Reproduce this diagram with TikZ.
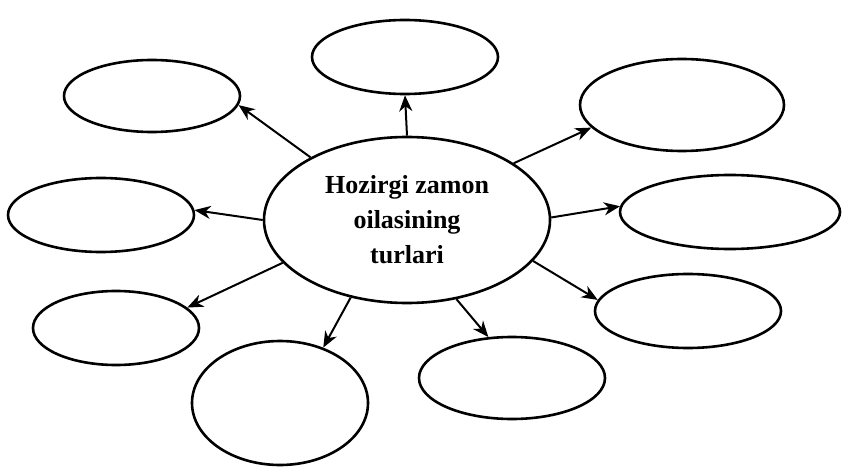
\documentclass[tikz,border=0pt]{standalone}
\usepackage{fontspec}
\setmainfont{Liberation Serif}
\usetikzlibrary{shapes.geometric,arrows.meta}
\tikzset{
  bub/.style={draw=black, line width=2.6pt, ellipse, inner sep=0pt},
  arr/.style={line width=2pt, -{Stealth[length=16pt,width=13pt,inset=5pt]}}
}
\begin{document}
\begin{tikzpicture}[x=1pt,y=-1pt]
\useasboundingbox (0,0) rectangle (843,473);
\node[bub, minimum width=286pt, minimum height=166pt, align=center,
  font=\fontsize{26}{35}\selectfont\bfseries] (c) at (407,220)
  {Hozirgi zamon\\oilasining\\turlari};
\node[bub, minimum width=186pt, minimum height=74pt] (t) at (405,57) {};
\node[bub, minimum width=176pt, minimum height=72pt] (tl) at (152,96) {};
\node[bub, minimum width=204pt, minimum height=92pt] (tr) at (682,105) {};
\node[bub, minimum width=186pt, minimum height=74pt] (l) at (101,215) {};
\node[bub, minimum width=220pt, minimum height=74pt] (r) at (730,212) {};
\node[bub, minimum width=166pt, minimum height=74pt] (ll) at (116,328) {};
\node[bub, minimum width=186pt, minimum height=74pt] (rl) at (688,311) {};
\node[bub, minimum width=176pt, minimum height=124pt] (bl) at (280,403) {};
\node[bub, minimum width=186pt, minimum height=82pt] (br) at (512,378) {};
\draw[arr] (c.90) -- (t.south);
\draw[arr] (c.147) -- (tl.-6);
\draw[arr] (c.28) -- (tr.194);
\draw[arr] (c.180) -- (l.3);
\draw[arr] (c.1) -- (r.177);
\draw[arr] (c.199) -- (ll.16);
\draw[arr] (c.-18) -- (rl.173);
\draw[arr] (c.234) -- (bl.52);
\draw[arr] (c.302) -- (br.120);
\end{tikzpicture}
\end{document}
